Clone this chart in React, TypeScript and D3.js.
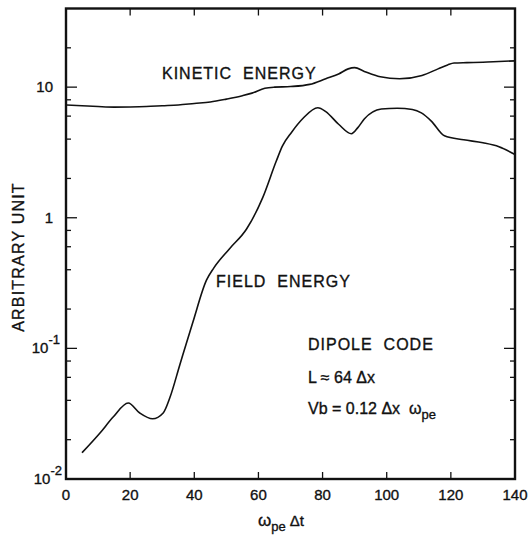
import React, { useEffect, useRef } from "react";
import * as d3 from "d3";

// kinetic energy
const kineticT = [0, 5, 10, 15, 20, 25, 30, 35, 40, 45, 50, 55, 58, 62, 65, 70, 76, 81, 85, 88, 90, 93, 98, 104, 111, 116, 119, 121, 125, 130, 135, 140];
const kineticV = [7.3, 7.2, 7.1, 7.03, 7.05, 7.1, 7.2, 7.3, 7.5, 7.7, 8.1, 8.6, 9.0, 9.8, 10.0, 10.1, 10.5, 11.6, 12.6, 13.8, 14.1, 13.2, 12.0, 11.6, 12.3, 13.8, 14.8, 15.3, 15.4, 15.5, 15.7, 15.9];

// field energy
const fieldT = [5, 10.6, 14.7, 19.4, 23, 27, 30.3, 32.4, 35.5, 39.6, 43.8, 46, 51, 56.3, 61.3, 65.6, 67.5, 70.3, 74, 78.5, 81, 85, 89, 91, 93, 98.3, 103.3, 108, 110.8, 113.9, 118, 124, 130, 135, 140];
const fieldV = [0.0159, 0.0225, 0.0298, 0.0382, 0.032, 0.0289, 0.032, 0.042, 0.075, 0.16, 0.333, 0.41, 0.58, 0.82, 1.42, 2.73, 3.55, 4.5, 5.8, 6.95, 6.5, 5.2, 4.4, 4.9, 5.7, 6.8, 6.9, 6.75, 6.35, 5.5, 4.24, 3.95, 3.75, 3.5, 3.05];

const xTicks = [0, 20, 40, 60, 80, 100, 120, 140];
const yMajor = [0.01, 0.1, 1, 10];
const yMinor = [0.02, 0.04, 0.06, 0.08, 0.2, 0.4, 0.6, 0.8, 2, 4, 6, 8, 20];

const FONT = "'Liberation Sans', Arial, sans-serif";

export default function App() {
	const ref = useRef<SVGSVGElement | null>(null);

	useEffect(() => {
		document.body.style.margin = "0";
		if (!ref.current) return;
		const svg = d3.select(ref.current);
		svg.selectAll("*").remove();

		const left = 66, right = 515, top = 8.5, bottom = 479;
		const x = d3.scaleLinear().domain([0, 140]).range([left, right]);
		const y = d3.scaleLog().domain([0.01, 40]).range([bottom, top]);

		const line = d3
			.line<[number, number]>()
			.x((d) => x(d[0]))
			.y((d) => y(d[1]))
			.curve(d3.curveMonotoneX);

		const ticks = svg.append("g").attr("stroke", "#111").attr("stroke-width", 1.3);
		// x ticks bottom and top
		xTicks.slice(1, -1).forEach((t) => {
			ticks.append("line").attr("x1", x(t)).attr("x2", x(t)).attr("y1", bottom).attr("y2", bottom - 7);
			ticks.append("line").attr("x1", x(t)).attr("x2", x(t)).attr("y1", top).attr("y2", top + 7);
		});
		yMajor.slice(1).forEach((v) => {
			ticks.append("line").attr("x1", left).attr("x2", left + 11).attr("y1", y(v)).attr("y2", y(v));
			ticks.append("line").attr("x1", right).attr("x2", right - 11).attr("y1", y(v)).attr("y2", y(v));
		});
		yMinor.forEach((v) => {
			ticks.append("line").attr("x1", left).attr("x2", left + 5).attr("y1", y(v)).attr("y2", y(v));
			ticks.append("line").attr("x1", right).attr("x2", right - 5).attr("y1", y(v)).attr("y2", y(v));
		});

		// frame
		svg.append("rect")
			.attr("x", left).attr("y", top)
			.attr("width", right - left).attr("height", bottom - top)
			.attr("fill", "none").attr("stroke", "#111").attr("stroke-width", 2.4);

		const curves = svg.append("g").attr("fill", "none").attr("stroke", "#111").attr("stroke-width", 1.6);
		curves.append("path").attr("d", line(kineticT.map((t, i) => [t, kineticV[i]])));
		curves.append("path").attr("d", line(fieldT.map((t, i) => [t, fieldV[i]])));

		const txt = svg.append("g").attr("font-family", FONT).attr("fill", "#111")
			.attr("stroke", "#111").attr("stroke-width", 0.35);

		// x tick labels
		xTicks.forEach((t) => {
			txt.append("text").attr("x", x(t)).attr("y", 500)
				.attr("text-anchor", "middle").attr("font-size", 15).text(String(t));
		});

		// y tick labels
		const yLab = (v: number, base: string, sup: string | null, xEnd: number) => {
			const tEl = txt.append("text").attr("x", xEnd).attr("y", y(v) + 5)
				.attr("text-anchor", "end").attr("font-size", 15);
			tEl.append("tspan").text(base);
			if (sup) tEl.append("tspan").attr("dy", -9).attr("font-size", 13).text(sup);
		};
		yLab(10, "10", null, 53);
		yLab(1, "1", null, 53);
		yLab(0.1, "10", "-1", 60);
		yLab(0.01, "10", "-2", 62);

		// axis titles
		const xt = txt.append("text").attr("x", 258).attr("y", 526).attr("font-size", 17);
		xt.append("tspan").text("ω");
		xt.append("tspan").attr("dy", 5).attr("font-size", 13).text("pe");
		xt.append("tspan").attr("dy", -5).attr("dx", 4).attr("font-size", 15).text("Δt");

		txt.append("text")
			.attr("transform", "translate(24,257) rotate(-90)")
			.attr("text-anchor", "middle").attr("font-size", 16)
			.attr("letter-spacing", 1.2)
			.text("ARBITRARY  UNIT");

		// annotations
		txt.append("text").attr("x", 162).attr("y", 79).attr("font-size", 16)
			.attr("letter-spacing", 1).attr("xml:space", "preserve").text("KINETIC  ENERGY");
		txt.append("text").attr("x", 216).attr("y", 287).attr("font-size", 16)
			.attr("letter-spacing", 1).attr("xml:space", "preserve").text("FIELD  ENERGY");
		txt.append("text").attr("x", 308).attr("y", 350).attr("font-size", 16)
			.attr("letter-spacing", 1).attr("xml:space", "preserve").text("DIPOLE  CODE");
		txt.append("text").attr("x", 308).attr("y", 383).attr("font-size", 16)
			.attr("xml:space", "preserve").text("L ≈ 64 Δx");
		const vb = txt.append("text").attr("x", 308).attr("y", 414).attr("font-size", 16)
			.attr("xml:space", "preserve");
		vb.append("tspan").text("Vb = 0.12 Δx  ω");
		vb.append("tspan").attr("dy", 5).attr("font-size", 13).text("pe");
	}, []);

	return <svg ref={ref} width={530} height={538} style={{ display: "block", background: "#fff" }} />;
}
